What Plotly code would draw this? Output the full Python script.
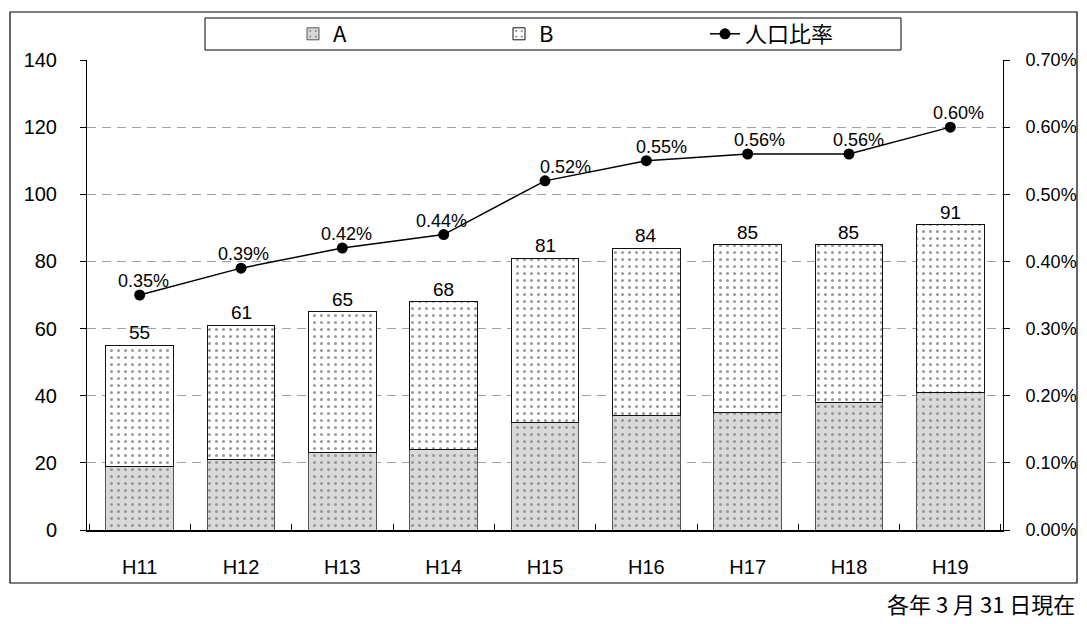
import plotly.graph_objects as go

# Fiscal years (Heisei) and values
years = ["H11", "H12", "H13", "H14", "H15", "H16", "H17", "H18", "H19"]
totals = [55, 61, 65, 68, 81, 84, 85, 85, 91]
series_a = [19, 21, 23, 24, 32, 34, 35, 38, 41]
series_b = [t - a for t, a in zip(totals, series_a)]
ratio = [0.35, 0.39, 0.42, 0.44, 0.52, 0.55, 0.56, 0.56, 0.60]
ratio_labels = ["0.35%", "0.39%", "0.42%", "0.44%", "0.52%", "0.55%", "0.56%", "0.56%", "0.60%"]
ratio_label_shift = [4, 2, 4, -2, 20, 15, 12, 10, 8]

left_ticks = [0, 20, 40, 60, 80, 100, 120, 140]
right_ticks = [0.0, 0.1, 0.2, 0.3, 0.4, 0.5, 0.6, 0.7]
right_tick_text = ["0.00%", "0.10%", "0.20%", "0.30%", "0.40%", "0.50%", "0.60%", "0.70%"]

FONT = "Liberation Sans, Arial, sans-serif"
CJK = "Noto Sans CJK JP, Liberation Sans, sans-serif"

fig = go.Figure()

fig.add_trace(go.Bar(
    x=years, y=series_a, name="A",
    marker=dict(
        color="#d9d9d9",
        line=dict(color="#555555", width=1),
        pattern=dict(shape=".", fgcolor="#555555", bgcolor="#d9d9d9", size=7, solidity=0.15),
    ),
    width=0.67,
))
fig.add_trace(go.Bar(
    x=years, y=series_b, name="B",
    marker=dict(
        color="white",
        line=dict(color="#111111", width=1),
        pattern=dict(shape=".", fgcolor="#333333", bgcolor="white", size=7, solidity=0.15),
    ),
    width=0.67,
))
fig.add_trace(go.Scatter(
    x=years, y=ratio, name="人口比率", yaxis="y2",
    mode="lines+markers",
    line=dict(color="black", width=1.5),
    marker=dict(color="black", size=11),
))

annotations = []
for yr, t in zip(years, totals):
    annotations.append(dict(
        x=yr, y=t, xref="x", yref="y", text=str(t), showarrow=False,
        yanchor="bottom", yshift=0, font=dict(size=19, color="black", family=FONT),
    ))
for yr, r, lab, sh in zip(years, ratio, ratio_labels, ratio_label_shift):
    annotations.append(dict(
        x=yr, y=r, xref="x", yref="y2", text=lab, showarrow=False,
        yanchor="bottom", yshift=2, xshift=sh, font=dict(size=18, color="black", family=FONT),
    ))

pw, ph = 916, 470
annotations.append(dict(
    x=(1077 - 87) / pw, xref="paper", xanchor="right",
    y=(530 - 603) / ph, yref="paper", yanchor="middle",
    text="各年 3 月 31 日現在", showarrow=False,
    font=dict(size=22, color="black", family=CJK),
))

# Outer frame around the whole chart, plus the legend frame
shapes = [
    dict(
        type="rect", xref="paper", yref="paper",
        x0=(10 - 87) / pw, x1=(1077 - 87) / pw,
        y0=(530 - 583) / ph, y1=(530 - 12) / ph,
        line=dict(color="black", width=1.2), fillcolor="rgba(0,0,0,0)", layer="below",
    ),
    dict(
        type="rect", xref="paper", yref="paper",
        x0=(205 - 87) / pw, x1=(901 - 87) / pw,
        y0=(530 - 50) / ph, y1=(530 - 18) / ph,
        line=dict(color="black", width=1), fillcolor="white", layer="below",
    ),
]

fig.update_layout(
    width=1087, height=624,
    margin=dict(l=87, r=84, t=60, b=94, autoexpand=False),
    paper_bgcolor="white", plot_bgcolor="white",
    barmode="stack",
    font=dict(family=FONT, size=20, color="black"),
    showlegend=True,
    legend=dict(
        orientation="h", x=(293 - 87) / pw, xanchor="left", y=(530 - 34) / ph, yanchor="middle",
        borderwidth=0, bgcolor="rgba(0,0,0,0)",
        font=dict(size=22, family=CJK),
        entrywidth=161, traceorder="normal",
    ),
    xaxis=dict(
        showline=True, linecolor="black", linewidth=1.5,
        ticks="inside", ticklen=6, tickcolor="black", tickson="boundaries",
        tickfont=dict(size=20), showgrid=False, fixedrange=True, automargin=False,
        ticklabelstandoff=18,
    ),
    yaxis=dict(
        range=[0, 140], tickvals=left_ticks,
        showline=True, linecolor="black", linewidth=1,
        ticks="outside", ticklen=6, tickcolor="black",
        showgrid=True, gridcolor="#a0a0a0", griddash="9px,6px", gridwidth=1,
        zeroline=False, tickfont=dict(size=20), ticklabelstandoff=19, automargin=False,
    ),
    yaxis2=dict(
        range=[0, 0.7], tickvals=right_ticks, ticktext=right_tick_text,
        overlaying="y", side="right",
        showline=True, linecolor="black", linewidth=1,
        ticks="outside", ticklen=6, tickcolor="black",
        showgrid=False, zeroline=False, tickfont=dict(size=18), ticklabelstandoff=12,
        automargin=False,
    ),
    annotations=annotations,
    shapes=shapes,
)

fig.write_html("out.html")
